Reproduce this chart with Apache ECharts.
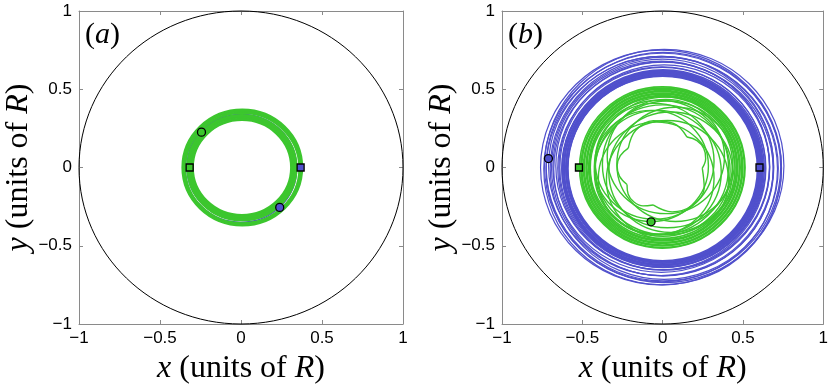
<!DOCTYPE html>
<html>
<head>
<meta charset="utf-8">
<script src="https://cdn.jsdelivr.net/npm/echarts@6/dist/echarts.min.js"></script>
<style>
  html, body { margin: 0; padding: 0; background: #fff; }
  #chart { width: 831px; height: 390px; }
</style>
</head>
<body>
<div id="chart"></div>
<script>
// circles are [cx, cy, r] in units of R
var wall = [[0, 0, 1]];

// panel (a)
var blueLoopsA = [[0.0, -0.006, 0.344], [0.004, 0.002, 0.338]];
var greenLoopsA = [
  [0.006, 0.0, 0.305], [0.008, -0.002, 0.312], [0.006, 0.002, 0.32], [0.007, 0.0, 0.328],
  [0.006, -0.002, 0.335], [0.008, -0.004, 0.354], [0.006, 0.0, 0.361], [0.008, 0.0, 0.368]
];
var blueSquareA = [[0.368, 0]];
var blueDotA = [[0.239, -0.255]];
var greenSquareA = [[-0.317, 0]];
var greenDotA = [[-0.244, 0.226]];

// panel (b)
var blueBandB = [
  [0.0, -0.006, 0.590], [0.002, -0.008, 0.594], [-0.002, -0.006, 0.598], [0.0, -0.01, 0.602],
  [0.003, -0.004, 0.606], [-0.003, -0.01, 0.610], [0.0, -0.006, 0.614], [0.002, -0.008, 0.618],
  [-0.002, -0.004, 0.622], [0.0, -0.01, 0.626], [0.003, -0.006, 0.630]
];
var blueLoopsB = [
  [0.0, 0.0, 0.640], [-0.005, -0.005, 0.648], [0.01, 0.0, 0.656], [0.0, 0.01, 0.665],
  [-0.008, 0.005, 0.675], [0.005, -0.01, 0.683], [0.0, 0.0, 0.692], [-0.01, 0.01, 0.70],
  [0.01, -0.005, 0.71], [-0.005, -0.01, 0.72], [0.005, 0.005, 0.73], [0.0, -0.01, 0.74],
  [-0.01, 0.0, 0.75], [0.01, 0.01, 0.745]
];
var greenBandB = [
  [-0.002, 0.0, 0.453], [0.0, -0.002, 0.461], [-0.002, 0.0, 0.469], [0.0, -0.002, 0.477],
  [-0.002, 0.0, 0.485], [0.0, -0.002, 0.493], [-0.002, 0.0, 0.501], [0.0, -0.002, 0.509],
  [-0.002, 0.0, 0.515]
];
var greenLoopsB = [
  [0.02, 0.01, 0.44], [-0.02, 0.0, 0.43], [0.0, -0.02, 0.42], [0.03, 0.02, 0.405],
  [-0.03, -0.03, 0.395], [0.05, -0.03, 0.385], [-0.05, 0.04, 0.37], [0.02, 0.07, 0.365],
  [-0.04, -0.07, 0.36], [0.08, 0.02, 0.365], [-0.07, 0.01, 0.355], [0.03, -0.08, 0.38]
];
// inner rosette, one list of points per lobe (cusp to cusp)
var rosetteB = [
  [[-0.2137, 0.1234], [-0.1683, 0.2359], [-0.0581, 0.2989], [0.0676, 0.2818], [0.1519, 0.1945]],
  [[0.1519, 0.1945], [0.2137, 0.1716], [0.2559, 0.1220], [0.2679, 0.0582], [0.2468, -0.0043]],
  [[0.2468, -0.0043], [0.2588, -0.1304], [0.1853, -0.2416], [0.0590, -0.2837], [-0.0597, -0.2394]],
  [[-0.0597, -0.2394], [-0.1223, -0.2453], [-0.1784, -0.2203], [-0.2145, -0.1706], [-0.2218, -0.1082]],
  [[-0.2218, -0.1082], [-0.2681, -0.0570], [-0.2833, 0.0099], [-0.2634, 0.0755], [-0.2137, 0.1234]]
];
var blueSquareB = [[0.603, 0]];
var blueDotB = [[-0.711, 0.057]];
var greenSquareB = [[-0.521, 0]];
var greenDotB = [[-0.072, -0.347]];

var GREEN = '#3cc62e';
var BLUE = '#5050cc';
var FRAME = '#8a8a8a';

function fmt(v) {
  if (v === 0) return '0';
  return (v < 0 ? '\u2212' : '') + Math.abs(v);
}

function loops(data, color, width, xi) {
  return {
    type: 'custom',
    xAxisIndex: xi, yAxisIndex: xi,
    data: data,
    encode: { x: 0, y: 1 },
    silent: true,
    clip: false,
    renderItem: function (params, api) {
      var c = api.coord([api.value(0), api.value(1)]);
      var s = api.size([api.value(2), api.value(2)]);
      return {
        type: 'ellipse',
        shape: { cx: c[0], cy: c[1], rx: s[0], ry: s[1] },
        style: { fill: 'none', stroke: color, lineWidth: width }
      };
    }
  };
}

function marker(data, shape, color, size, xi) {
  return {
    type: 'scatter',
    xAxisIndex: xi, yAxisIndex: xi,
    data: data,
    symbol: shape,
    symbolSize: size,
    silent: true,
    z: 5,
    itemStyle: { color: color, borderColor: '#000', borderWidth: 1.3, opacity: 1 }
  };
}

var nameStyle = {
  fontFamily: 'Liberation Serif', fontSize: 32, color: '#000',
  rich: { i: { fontFamily: 'Liberation Serif', fontStyle: 'italic', fontSize: 32, color: '#000' } }
};

function xAxes(g) {
  var base = {
    gridIndex: g, type: 'value', min: -1, max: 1, interval: 0.5,
    splitLine: { show: false },
    axisLine: { onZero: false, lineStyle: { color: FRAME, width: 1 } },
    axisTick: { inside: true, length: 4, lineStyle: { color: FRAME } }
  };
  return [
    Object.assign({}, base, {
      position: 'bottom',
      axisLabel: { color: '#000', fontFamily: 'Liberation Sans', fontSize: 17, margin: 6, formatter: fmt },
      name: '{i|x} (units of {i|R})', nameLocation: 'middle', nameGap: 29, nameTextStyle: nameStyle
    }),
    Object.assign({}, base, { position: 'top', axisLabel: { show: false } })
  ];
}

function yAxes(g) {
  var base = {
    gridIndex: g, type: 'value', min: -1, max: 1, interval: 0.5,
    splitLine: { show: false },
    axisLine: { onZero: false, lineStyle: { color: FRAME, width: 1 } },
    axisTick: { inside: true, length: 4, lineStyle: { color: FRAME } }
  };
  return [
    Object.assign({}, base, {
      position: 'left',
      axisLabel: { color: '#000', fontFamily: 'Liberation Sans', fontSize: 17, margin: 7, formatter: fmt },
      name: '{i|y} (units of {i|R})', nameLocation: 'middle', nameGap: 40, nameRotate: 90, nameTextStyle: nameStyle
    }),
    Object.assign({}, base, { position: 'right', axisLabel: { show: false } })
  ];
}

var series = [
  loops(wall, '#000', 1, 0),
  loops(blueLoopsA, BLUE, 1.2, 0),
  loops(greenLoopsA, GREEN, 2.6, 0),
  marker(blueSquareA, 'rect', BLUE, 7, 0),
  marker(blueDotA, 'circle', BLUE, 8, 0),
  marker(greenSquareA, 'rect', GREEN, 7, 0),
  marker(greenDotA, 'circle', GREEN, 8, 0),

  loops(wall, '#000', 1, 2),
  loops(blueBandB, BLUE, 1.6, 2),
  loops(blueLoopsB, BLUE, 1.2, 2),
  loops(greenBandB, GREEN, 1.6, 2),
  loops(greenLoopsB, GREEN, 1.4, 2),
  marker(blueSquareB, 'rect', BLUE, 7, 2),
  marker(blueDotB, 'circle', BLUE, 8, 2),
  marker(greenSquareB, 'rect', GREEN, 7, 2),
  marker(greenDotB, 'circle', GREEN, 8, 2)
];

rosetteB.forEach(function (lobe) {
  series.push({
    type: 'line', xAxisIndex: 2, yAxisIndex: 2,
    data: lobe, smooth: 0.4, showSymbol: false, silent: true,
    lineStyle: { color: GREEN, width: 1.4 }
  });
});

function panelLabel(x, letter) {
  return {
    type: 'text', left: x, top: 20,
    style: {
      text: '({i|' + letter + '})',
      font: '30px "Liberation Serif"', fill: '#000',
      rich: { i: { fontFamily: 'Liberation Serif', fontStyle: 'italic', fontSize: 30, fill: '#000' } }
    }
  };
}

var chart = echarts.init(document.getElementById('chart'));
chart.setOption({
  animation: false,
  backgroundColor: '#fff',
  grid: [
    { left: 79, top: 11, width: 324, height: 323 },
    { left: 502, top: 11, width: 323, height: 323 }
  ],
  xAxis: xAxes(0).concat(xAxes(1)),
  yAxis: yAxes(0).concat(yAxes(1)),
  graphic: [panelLabel(85, 'a'), panelLabel(508, 'b')],
  series: series
});
</script>
</body>
</html>
